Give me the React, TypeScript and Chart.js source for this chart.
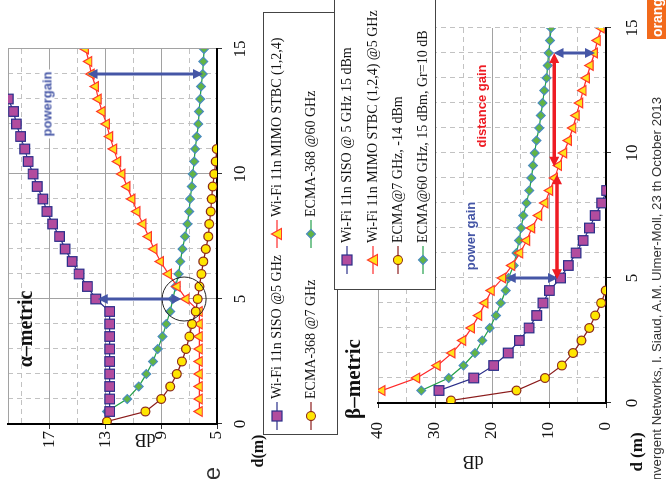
import React, { useEffect, useRef } from "react";
import { Chart, registerables } from "chart.js";

Chart.register(...registerables);

// ---------------- data ----------------
const distTicks = [0, 5, 10, 15];
const distGrid = [0, 1, 2, 3, 4, 5, 6, 7, 8, 9, 10, 11, 12, 13, 14, 15];
const alphaDbTicks = [5, 9, 13, 17];
const alphaDbGrid = [5, 7, 9, 11, 13, 15, 17, 19, 20];
const betaDbTicks = [0, 10, 20, 30, 40];
const betaDbGrid = [0, 5, 10, 15, 20, 25, 30, 35, 40];

const distances = [0.5, 1, 1.5, 2, 2.5, 3, 3.5, 4, 4.5, 5, 5.5, 6, 6.5, 7, 7.5, 8, 8.5, 9, 9.5, 10, 10.5, 11, 11.5, 12, 12.5, 13, 13.5, 14, 14.5, 15];

// alpha-metric
const alphaSisoD = [0.5, 1, 1.5, 2, 2.5, 3, 3.5, 4, 4.5, 5, 5.5, 6, 6.5, 7, 7.5, 8, 8.5, 9, 9.5, 10, 10.5, 11, 11.5, 12, 12.5, 13];
const alphaSisoDb = [12.7, 12.7, 12.7, 12.7, 12.7, 12.7, 12.7, 12.7, 12.7, 13.7, 14.3, 14.9, 15.4, 15.9, 16.3, 16.8, 17.2, 17.5, 17.9, 18.2, 18.55, 18.8, 19.1, 19.4, 19.6, 19.98];
const alphaMimoDb = [6.26, 6.26, 6.26, 6.26, 6.26, 6.26, 6.26, 6.26, 6.26, 7.21, 7.85, 8.48, 9.05, 9.52, 9.91, 10.31, 10.74, 11.09, 11.45, 11.81, 12.12, 12.41, 12.69, 12.93, 13.24, 13.52, 13.71, 14.02, 14.19, 14.43];
const alphaEcma7D = [0.1, 0.5, 1, 1.5, 2, 2.5, 3, 3.5, 4, 4.5, 5, 5.5, 6, 6.5, 7, 7.5, 8, 8.5, 9, 9.5, 10, 10.5, 11];
const alphaEcma7Db = [12.9, 10.14, 9.0, 8.36, 7.88, 7.52, 7.22, 6.98, 6.79, 6.52, 6.39, 6.26, 6.12, 5.98, 5.8, 5.62, 5.55, 5.45, 5.38, 5.31, 5.19, 5.09, 5.02];
const alphaEcma60Db = [12.9, 11.45, 10.62, 10.07, 9.6, 9.25, 8.92, 8.64, 8.36, 8.17, 7.97, 7.76, 7.63, 7.48, 7.29, 7.12, 7.0, 6.93, 6.81, 6.74, 6.64, 6.57, 6.45, 6.34, 6.29, 6.21, 6.14, 6.03, 5.98, 5.93];

// beta-metric
const betaSisoD = [0.5, 1, 1.5, 2, 2.5, 3, 3.5, 4, 4.5, 5, 5.5, 6, 6.5, 7, 7.5, 8, 8.5];
const betaSisoDb = [29.3, 23.2, 19.7, 17.15, 15.2, 13.5, 12.15, 11.05, 9.92, 7.98, 6.6, 5.25, 4.0, 2.9, 1.9, 0.77, -0.1];
const betaMimoDb = [39.3, 33.2, 29.6, 27.0, 25.1, 23.6, 22.3, 21.2, 20.1, 18.1, 16.5, 15.1, 13.9, 13.0, 11.8, 10.7, 9.85, 9.0, 8.3, 7.4, 6.55, 5.8, 5.2, 4.6, 4.0, 3.4, 2.75, 2.0, 1.5, 0.8];
const betaEcma7D = [0.1, 0.5, 1, 1.5, 2, 2.5, 3, 3.5, 4, 4.5];
const betaEcma7Db = [27.2, 15.7, 10.7, 7.74, 5.77, 4.29, 2.92, 1.9, 0.85, 0.05];
const betaEcma60Db = [32.4, 27.6, 25.0, 23.0, 21.7, 20.4, 19.3, 18.45, 17.6, 17.1, 16.2, 15.7, 15.25, 14.9, 14.5, 13.95, 13.45, 13.1, 12.8, 12.5, 12.2, 11.73, 11.43, 11.13, 10.83, 10.42, 10.24, 10.06, 9.82, 9.64];

const alphaLabels = ["Wi-Fi 11n SISO @5 GHz", "Wi-Fi 11n MIMO STBC (1,2,4)", "ECMA-368 @7 GHz", "ECMA-368 @60 GHz"];
const betaLabels = ["Wi-Fi 11n SISO @ 5 GHz 15 dBm", "Wi-Fi 11n MIMO STBC (1,2,4) @5 GHz", "ECMA@7 GHz, -14 dBm", "ECMA@60 GHz, 15 dBm, Gr=10 dB"];

// annotations (data units: d, dB)
const BLUE = "#4556a6";
const RED = "#ee1c24";
const alphaArrows = [
  { d1: 14, db1: 14.3, d2: 14, db2: 6.0, color: BLUE, w: 3 },
  { d1: 5, db1: 13.55, d2: 5, db2: 7.55, color: BLUE, w: 3 },
];
const alphaCircles = [{ d: 5, db: 7.36, r: 22 }];
const betaArrows = [
  { d1: 14, db1: 9.2, d2: 14, db2: 1.95, color: BLUE, w: 3 },
  { d1: 5, db1: 17.6, d2: 5, db2: 8.4, color: BLUE, w: 3 },
  { d1: 14, db1: 9.1, d2: 9.45, db2: 9.1, color: RED, w: 3.5 },
  { d1: 9.15, db1: 8.6, d2: 4.95, db2: 8.6, color: RED, w: 3.5 },
];

// ---------------- styles ----------------
const SERIF = "'Liberation Serif', 'DejaVu Serif', serif";
const SANS = "'Liberation Sans', Arial, sans-serif";

const STYLES: any = {
  siso: { line: "#2b2f8a", fill: "#b24c9e", stroke: "#2b2f8a", point: "rect", r: 6.8 },
  mimo: { line: "#ff2a2a", fill: "#ffe21a", stroke: "#ff3a2a", point: "triangle", r: 5.6 },
  ecma7: { line: "#8b1c1c", fill: "#ffe600", stroke: "#8b2a1a", point: "circle", r: 4.4 },
  ecma60: { line: "#23a04a", fill: "#62b544", stroke: "#4a8cc0", point: "rectRot", r: 4.4 },
};

function head(ctx: CanvasRenderingContext2D, fx: number, fy: number, tx: number, ty: number, len: number, half: number) {
  const a = Math.atan2(ty - fy, tx - fx);
  ctx.beginPath();
  ctx.moveTo(tx, ty);
  ctx.lineTo(tx - len * Math.cos(a) + half * Math.sin(a), ty - len * Math.sin(a) - half * Math.cos(a));
  ctx.lineTo(tx - len * Math.cos(a) - half * Math.sin(a), ty - len * Math.sin(a) + half * Math.cos(a));
  ctx.closePath();
  ctx.fill();
}

function annotPlugin(arrows: any[], circles: any[]) {
  return {
    id: "annot",
    afterDatasetsDraw(chart: any) {
      const { ctx, scales } = chart;
      const xs = scales.x, ys = scales.y;
      ctx.save();
      circles.forEach((c) => {
        ctx.beginPath();
        ctx.strokeStyle = "#222";
        ctx.lineWidth = 1;
        ctx.arc(xs.getPixelForValue(c.d), ys.getPixelForValue(c.db), c.r, 0, Math.PI * 2);
        ctx.stroke();
      });
      arrows.forEach((a) => {
        const x1 = xs.getPixelForValue(a.d1), y1 = ys.getPixelForValue(a.db1);
        const x2 = xs.getPixelForValue(a.d2), y2 = ys.getPixelForValue(a.db2);
        const ang = Math.atan2(y2 - y1, x2 - x1);
        const len = 10, half = 5;
        ctx.strokeStyle = a.color;
        ctx.fillStyle = a.color;
        ctx.lineWidth = a.w;
        ctx.beginPath();
        ctx.moveTo(x1 + Math.cos(ang) * len * 0.8, y1 + Math.sin(ang) * len * 0.8);
        ctx.lineTo(x2 - Math.cos(ang) * len * 0.8, y2 - Math.sin(ang) * len * 0.8);
        ctx.stroke();
        head(ctx, x1, y1, x2, y2, len, half);
        head(ctx, x2, y2, x1, y1, len, half);
      });
      ctx.restore();
    },
  };
}

function buildChart(canvas: HTMLCanvasElement, spec: any) {
  const datasets = spec.series.map((s: any) => {
    const st = STYLES[s.style];
    return {
      label: s.label,
      data: s.d.map((d: number, i: number) => ({ x: d, y: s.db[i] })),
      borderColor: st.line,
      borderWidth: 1.2,
      backgroundColor: st.fill,
      pointStyle: st.point,
      pointRadius: st.r,
      pointHoverRadius: st.r,
      pointBackgroundColor: st.fill,
      pointBorderColor: st.stroke,
      pointBorderWidth: 1.2,
      tension: 0,
      fill: false,
    };
  });
  const tickVal = (ctx: any) => (ctx && ctx.tick ? ctx.tick.value : NaN);
  return new Chart(canvas, {
    type: "line",
    data: { datasets },
    options: {
      animation: false,
      responsive: false,
      events: [],
      layout: { padding: spec.padding },
      plugins: { legend: { display: false }, tooltip: { enabled: false } },
      scales: {
        x: {
          type: "linear",
          min: 0,
          max: 15,
          afterBuildTicks: (s: any) => {
            s.ticks = distGrid.map((v) => ({ value: v }));
          },
          afterFit: (s: any) => {
            s.height = spec.xHeight;
            s.paddingLeft = 0;
            s.paddingRight = 0;
          },
          ticks: {
            autoSkip: false,
            maxRotation: 0,
            minRotation: 0,
            padding: spec.xPad,
            color: "#111",
            font: { family: SERIF, size: 17 },
            callback: (v: any) => (distTicks.includes(Number(v)) ? String(v) : ""),
          },
          grid: {
            color: (c: any) => (spec.xSolid(tickVal(c)) ? "#a2a2a2" : "#c2c2c2"),
            lineWidth: 1,
            tickLength: 5,
            tickColor: (c: any) => (distTicks.includes(tickVal(c)) ? "#333" : "rgba(0,0,0,0)"),
          },
          border: {
            color: "#000",
            width: 2,
            dash: (c: any) => (spec.xSolid(tickVal(c)) || !(c && c.tick) ? [] : [5, 4]),
          },
        },
        y: {
          type: "linear",
          min: spec.yMin,
          max: spec.yMax,
          afterBuildTicks: (s: any) => {
            s.ticks = spec.yGrid.map((v: number) => ({ value: v }));
          },
          afterFit: (s: any) => {
            s.width = spec.yWidth;
            s.paddingTop = 0;
            s.paddingBottom = 0;
          },
          ticks: {
            autoSkip: false,
            padding: spec.yPad,
            color: "#111",
            font: { family: SERIF, size: 17 },
            callback: (v: any) => (spec.yTicks.includes(Number(v)) ? String(v) : ""),
          },
          grid: {
            color: (c: any) => (spec.ySolid(tickVal(c)) ? "#a2a2a2" : "#c2c2c2"),
            lineWidth: 1,
            tickLength: 5,
            tickColor: (c: any) => (spec.yTicks.includes(tickVal(c)) ? "#333" : "rgba(0,0,0,0)"),
          },
          border: {
            color: "#000",
            width: 2,
            dash: (c: any) => (spec.ySolid(tickVal(c)) || !(c && c.tick) ? [] : [5, 4]),
          },
        },
      },
    } as any,
    plugins: [annotPlugin(spec.arrows, spec.circles)],
  });
}

const alphaSpec = {
  series: [
    { label: alphaLabels[0], d: alphaSisoD, db: alphaSisoDb, style: "siso" },
    { label: alphaLabels[2], d: alphaEcma7D, db: alphaEcma7Db, style: "ecma7" },
    { label: alphaLabels[1], d: distances, db: alphaMimoDb, style: "mimo" },
    { label: alphaLabels[3], d: distances, db: alphaEcma60Db, style: "ecma60" },
  ],
  padding: { left: 0, right: 49, top: 7, bottom: 0 },
  xHeight: 45,
  yWidth: 55,
  xPad: 8,
  yPad: 2,
  yMin: 5,
  yMax: 20,
  yGrid: alphaDbGrid,
  yTicks: alphaDbTicks,
  xSolid: (v: number) => distTicks.includes(v),
  ySolid: (v: number) => alphaDbTicks.includes(v) || v === 20,
  arrows: alphaArrows,
  circles: alphaCircles,
};

const betaSpec = {
  series: [
    { label: betaLabels[0], d: betaSisoD, db: betaSisoDb, style: "siso" },
    { label: betaLabels[2], d: betaEcma7D, db: betaEcma7Db, style: "ecma7" },
    { label: betaLabels[1], d: distances, db: betaMimoDb, style: "mimo" },
    { label: betaLabels[3], d: distances, db: betaEcma60Db, style: "ecma60" },
  ],
  padding: { left: 0, right: 28, top: 48, bottom: 0 },
  xHeight: 60,
  yWidth: 76,
  xPad: 11,
  yPad: 14,
  yMin: 0,
  yMax: 40,
  yGrid: betaDbGrid,
  yTicks: betaDbTicks,
  xSolid: (v: number) => false,
  ySolid: (v: number) => betaDbTicks.includes(v),
  arrows: betaArrows,
  circles: [],
};

// ---------------- helpers ----------------
function Label(p: any) {
  return (
    <div
      style={{
        position: "absolute",
        left: p.u,
        top: p.v,
        transform: `translate(-50%, -50%)${p.rot ? " rotate(-90deg)" : ""}`,
        fontSize: p.size,
        fontFamily: p.family || SERIF,
        fontWeight: p.weight || "normal",
        color: p.color || "#111",
        whiteSpace: "nowrap",
        lineHeight: 1,
        background: p.bg,
        padding: p.bg ? "1px 2px" : 0,
      }}
    >
      {p.children}
    </div>
  );
}

function Sym({ kind }: { kind: string }) {
  const st = STYLES[kind];
  return (
    <svg width={28} height={14} style={{ display: "block", flex: "none" }}>
      <line x1={0} y1={7} x2={28} y2={7} stroke={st.line} strokeWidth={1.2} />
      {kind === "siso" && <rect x={9} y={2} width={10} height={10} fill={st.fill} stroke={st.stroke} strokeWidth={1.2} />}
      {kind === "mimo" && <polygon points="14,1.5 19.5,11.5 8.5,11.5" fill={st.fill} stroke={st.stroke} strokeWidth={1.2} />}
      {kind === "ecma7" && <circle cx={14} cy={7} r={4.5} fill={st.fill} stroke={st.stroke} strokeWidth={1.2} />}
      {kind === "ecma60" && <polygon points="14,2.5 18.5,7 14,11.5 9.5,7" fill={st.fill} stroke={st.stroke} strokeWidth={1.2} />}
    </svg>
  );
}

function Item({ u, v, kind, text }: any) {
  return (
    <div
      style={{
        position: "absolute",
        left: u,
        top: v - 8,
        height: 16,
        display: "flex",
        alignItems: "center",
        gap: 3,
        fontFamily: SERIF,
        fontSize: 14,
        color: "#111",
        whiteSpace: "nowrap",
      }}
    >
      <Sym kind={kind} />
      <span>{text}</span>
    </div>
  );
}

export default function App() {
  const aRef = useRef<HTMLCanvasElement>(null);
  const bRef = useRef<HTMLCanvasElement>(null);
  useEffect(() => {
    const a = buildChart(aRef.current as HTMLCanvasElement, alphaSpec);
    const b = buildChart(bRef.current as HTMLCanvasElement, betaSpec);
    return () => {
      a.destroy();
      b.destroy();
    };
  }, []);

  return (
    <div style={{ position: "fixed", left: 0, top: 0, width: 666, height: 479, overflow: "hidden", background: "#fff" }}>
      <div
        style={{
          position: "absolute",
          left: 0,
          top: 0,
          width: 479,
          height: 666,
          transformOrigin: "0 0",
          transform: "translateY(479px) rotate(-90deg)",
        }}
      >
        <canvas ref={aRef} width={479} height={262} style={{ position: "absolute", left: 0, top: 0, width: 479, height: 262 }} />
        <canvas ref={bRef} width={479} height={336} style={{ position: "absolute", left: 0, top: 330, width: 479, height: 336 }} />

        {/* alpha chart texts */}
        <Label u={150} v={25} size={20} weight="bold">α–metric</Label>
        <Label u={375} v={47} size={13} family={SANS} weight="bold" color={BLUE} bg="#fff">powergain</Label>
        <Label u={39} v={145} size={18} rot>dB</Label>
        <Label u={28} v={258} size={16} weight="bold">d(m)</Label>

        {/* alpha legend */}
        <div style={{ position: "absolute", left: 44, top: 263, width: 423, height: 75, border: "1px solid #444", boxSizing: "border-box" }} />
        <Item u={49} v={277} kind="siso" text={alphaLabels[0]} />
        <Item u={231} v={277} kind="mimo" text={alphaLabels[1]} />
        <Item u={49} v={311} kind="ecma7" text={alphaLabels[2]} />
        <Item u={231} v={311} kind="ecma60" text={alphaLabels[3]} />

        {/* beta chart texts */}
        <Label u={100} v={353} size={21} weight="bold">β–metric</Label>
        <Label u={243} v={470} size={13} family={SANS} weight="bold" color={BLUE} bg="#fff">power gain</Label>
        <Label u={373} v={481} size={13} family={SANS} weight="bold" color={RED}>distance gain</Label>
        <Label u={17} v={473} size={18} rot>dB</Label>
        <Label u={27} v={636} size={17} weight="bold">d (m)</Label>

        {/* beta legend */}
        <div style={{ position: "absolute", left: 189, top: 334, width: 320, height: 102, border: "1px solid #444", boxSizing: "border-box", background: "#fff" }} />
        <Item u={205} v={347} kind="siso" text={betaLabels[0]} />
        <Item u={205} v={373} kind="mimo" text={betaLabels[1]} />
        <Item u={205} v={398} kind="ecma7" text={betaLabels[2]} />
        <Item u={205} v={423} kind="ecma60" text={betaLabels[3]} />

        {/* slide decorations */}
        <div style={{ position: "absolute", right: 467, top: 200, fontSize: 24, fontFamily: SANS, color: "#333", lineHeight: 1 }}>e</div>
        <div style={{ position: "absolute", right: 97, top: 650, fontSize: 13.2, fontFamily: SANS, color: "#333", lineHeight: 1, whiteSpace: "nowrap" }}>
          Convergent Networks, I. Siaud, A.M. Ulmer-Moll, 23 th October 2013
        </div>
        <div style={{ position: "absolute", left: 440, top: 647, width: 60, height: 25, background: "#f26a1b" }}>
          <div style={{ position: "absolute", left: 2, top: 3, fontSize: 14, fontFamily: SANS, fontWeight: "bold", color: "#fff", lineHeight: 1 }}>orange</div>
        </div>
      </div>
    </div>
  );
}
